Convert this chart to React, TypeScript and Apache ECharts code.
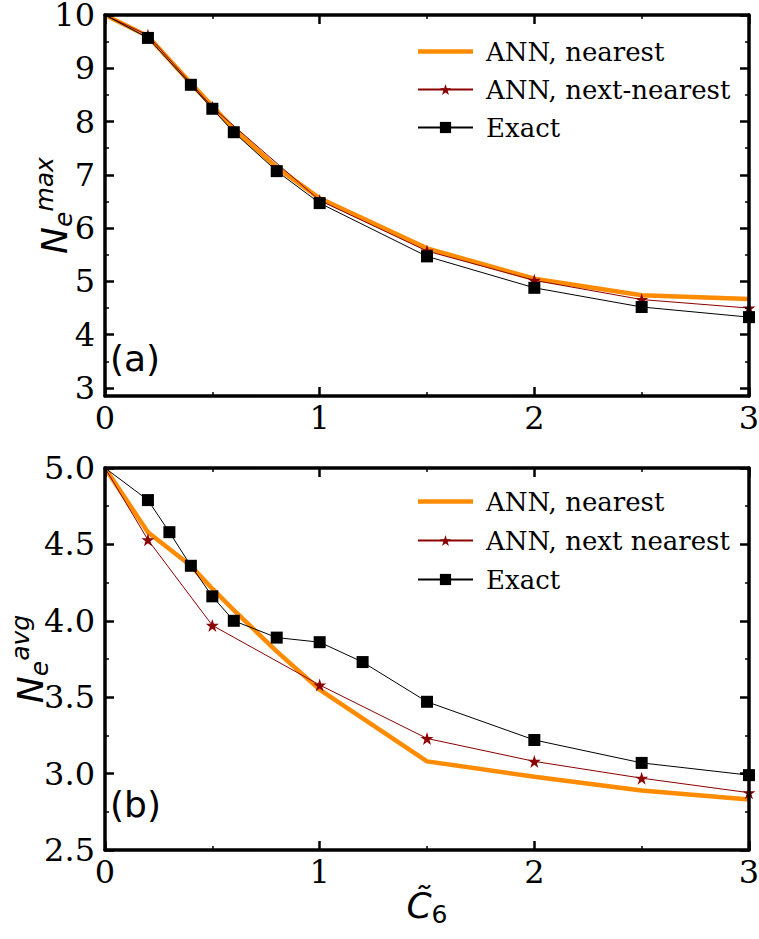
import React, { useEffect, useRef } from "react";
import * as echarts from "echarts";

// ---- data ----
const xTicks = [0, 1, 2, 3];
const topYTicks = [3, 4, 5, 6, 7, 8, 9, 10];
const topYMinor = [3.5, 4.5, 5.5, 6.5, 7.5, 8.5, 9.5];

const xTopNearest = [0, 0.2, 0.4, 0.5, 0.6, 0.8, 1, 1.5, 2, 2.5, 3];
const topNearest = [10, 9.6, 8.72, 8.29, 7.86, 7.14, 6.56, 5.62, 5.05, 4.74, 4.67];
const xTopNext = [0, 0.2, 0.5, 1, 1.5, 2, 2.5, 3];
const topNext = [10, 9.62, 8.27, 6.52, 5.57, 5.02, 4.66, 4.5];
const xTopExact = [0, 0.2, 0.4, 0.5, 0.6, 0.8, 1, 1.5, 2, 2.5, 3];
const topExact = [10, 9.57, 8.69, 8.24, 7.8, 7.07, 6.47, 5.47, 4.88, 4.52, 4.33];

const xBotNearest = [0, 0.2, 0.4, 0.5, 0.6, 0.8, 1, 1.5, 2, 2.5, 3];
const botNearest = [5.0, 4.58, 4.36, 4.21, 4.07, 3.8, 3.55, 3.08, 2.98, 2.89, 2.83];
const xBotNext = [0, 0.2, 0.5, 1, 1.5, 2, 2.5, 3];
const botNext = [5.0, 4.53, 3.97, 3.58, 3.23, 3.08, 2.97, 2.875];
const xBotExact = [0, 0.2, 0.3, 0.4, 0.5, 0.6, 0.8, 1, 1.2, 1.5, 2, 2.5, 3];
const botExact = [5.0, 4.79, 4.58, 4.36, 4.16, 4.0, 3.89, 3.86, 3.73, 3.47, 3.22, 3.07, 2.99];

const topLegend = ["ANN, nearest", "ANN, next-nearest", "Exact"];
const botLegend = ["ANN, nearest", "ANN, next nearest", "Exact"];

const zip = (xs: number[], ys: number[]) => xs.map((x, i) => [x, ys[i]]);

const SERIF = "DejaVu Serif";
const SANS = "DejaVu Sans";
const STAR =
  "path://M0,-10 L2.245,-3.09 L9.51,-3.09 L3.633,1.18 L5.878,8.09 L0,3.82 L-5.878,8.09 L-3.633,1.18 L-9.51,-3.09 L-2.245,-3.09 Z";
const LINE_ICON = "path://M0,0 H55 V4.5 H0 Z";

const tickLabel = { fontFamily: SERIF, fontSize: 32, color: "#000" };
const axisLine = { show: true, onZero: false, lineStyle: { color: "#000", width: 3.5 } };
const majorTick = { show: true, inside: true, length: 9, lineStyle: { color: "#000", width: 2.5 } };
const minorTickStyle = { show: true, splitNumber: 2, length: 4, lineStyle: { color: "#000", width: 1.5 } };

// markers sitting on the x = 0 frame are hidden, as in the reference (clipped there)
const sizeFn = (s: number) => (v: number[]) => (v[0] === 0 ? 0 : s);

function xAxisPair(gridIndex: number, name?: string) {
  const base = {
    type: "value",
    gridIndex,
    min: 0,
    max: 3,
    interval: 1,
    z: 10,
    axisLine,
    axisTick: majorTick,
    minorTick: minorTickStyle,
    splitLine: { show: false },
  };
  return [
    {
      ...base,
      position: "bottom",
      axisLabel: { ...tickLabel, margin: 6 },
      name: name,
      nameLocation: "middle",
      nameGap: 33,
      nameMoveOverlap: false,
      nameTextStyle: {
        rich: {
          c: { fontFamily: SANS, fontSize: 36, fontStyle: "italic", color: "#000", lineHeight: 44 },
          s: { fontFamily: SANS, fontSize: 25, color: "#000", lineHeight: 25, verticalAlign: "bottom" },
        },
      },
    },
    { ...base, position: "top", axisLabel: { show: false } },
  ];
}

const yNameRich = {
  n: { fontFamily: SANS, fontSize: 36, fontStyle: "italic", color: "#000", lineHeight: 44 },
  s: { fontFamily: SANS, fontSize: 25, fontStyle: "italic", color: "#000", lineHeight: 25, verticalAlign: "bottom" },
  p: { fontFamily: SANS, fontSize: 25, fontStyle: "italic", color: "#000", lineHeight: 25, verticalAlign: "top" },
};

const legendBase = {
  orient: "vertical",
  left: 412,
  itemWidth: 55,
  itemHeight: 14,
  itemGap: 11,
  textStyle: { fontFamily: SERIF, fontSize: 26, color: "#000", lineHeight: 27, padding: [0, 0, 0, 8] },
};

export default function App() {
  const ref = useRef<HTMLDivElement>(null);
  useEffect(() => {
    if (!ref.current) return;
    const chart = echarts.init(ref.current, undefined, { renderer: "svg" });
    const topYBase = { type: "value", gridIndex: 0, min: 2.85, max: 10, z: 10, splitLine: { show: false } };
    const option: any = {
      animation: false,
      backgroundColor: "#fff",
      grid: [
        { left: 105, right: 10, top: 15, height: 381, outerBoundsMode: "none", containLabel: false },
        { left: 105, right: 10, top: 468, height: 382, outerBoundsMode: "none", containLabel: false },
      ],
      xAxis: [...xAxisPair(0), ...xAxisPair(1, "{c|C\u0303}{s|6}")],
      yAxis: [
        {
          ...topYBase,
          position: "left",
          axisLine,
          axisTick: { ...majorTick, customValues: topYTicks },
          axisLabel: { ...tickLabel, margin: 10, customValues: topYTicks },
          name: "{n|N}{s|e}{p|max}",
          nameLocation: "middle",
          nameRotate: 90,
          nameGap: 29,
          nameMoveOverlap: false,
          nameTextStyle: { rich: yNameRich },
        },
        {
          ...topYBase,
          position: "left",
          axisLine: { show: false, onZero: false },
          axisLabel: { show: false },
          axisTick: { show: true, inside: true, length: 4, lineStyle: { color: "#000", width: 1.5 }, customValues: topYMinor },
        },
        {
          ...topYBase,
          position: "right",
          axisLine,
          axisLabel: { show: false },
          axisTick: { ...majorTick, customValues: topYTicks },
        },
        {
          ...topYBase,
          position: "right",
          axisLine: { show: false, onZero: false },
          axisLabel: { show: false },
          axisTick: { show: true, inside: true, length: 4, lineStyle: { color: "#000", width: 1.5 }, customValues: topYMinor },
        },
        {
          type: "value",
          gridIndex: 1,
          position: "left",
          min: 2.5,
          max: 5,
          interval: 0.5,
          z: 10,
          axisLine,
          axisTick: majorTick,
          minorTick: minorTickStyle,
          splitLine: { show: false },
          axisLabel: { ...tickLabel, margin: 10, formatter: (v: number) => v.toFixed(1) },
          name: "{n|N}{s|e}{p|avg}",
          nameLocation: "middle",
          nameRotate: 90,
          nameGap: 53,
          nameMoveOverlap: false,
          nameTextStyle: { rich: yNameRich },
        },
        {
          type: "value",
          gridIndex: 1,
          position: "right",
          min: 2.5,
          max: 5,
          interval: 0.5,
          z: 10,
          axisLine,
          axisTick: majorTick,
          minorTick: minorTickStyle,
          splitLine: { show: false },
          axisLabel: { show: false },
        },
      ],
      legend: [
        {
          ...legendBase,
          top: 33,
          data: [{ name: topLegend[0], icon: LINE_ICON }, topLegend[1], topLegend[2]],
        },
        {
          ...legendBase,
          top: 483,
          itemGap: 12,
          data: [{ name: botLegend[0], icon: LINE_ICON }, botLegend[1], botLegend[2]],
        },
      ],
      series: [
        {
          name: topLegend[0],
          type: "line",
          xAxisIndex: 0,
          yAxisIndex: 0,
          data: zip(xTopNearest, topNearest),
          symbol: "none",
          lineStyle: { color: "#ff8c00", width: 4.5 },
          itemStyle: { color: "#ff8c00" },
          z: 2,
        },
        {
          name: topLegend[1],
          type: "line",
          xAxisIndex: 0,
          yAxisIndex: 0,
          data: zip(xTopNext, topNext),
          symbol: STAR,
          symbolSize: sizeFn(13),
          lineStyle: { color: "#8b0000", width: 1 },
          itemStyle: { color: "#8b0000" },
          z: 3,
        },
        {
          name: topLegend[2],
          type: "line",
          xAxisIndex: 0,
          yAxisIndex: 0,
          data: zip(xTopExact, topExact),
          symbol: "rect",
          symbolSize: sizeFn(12),
          lineStyle: { color: "#000", width: 1 },
          itemStyle: { color: "#000" },
          z: 4,
        },
        {
          name: botLegend[0],
          type: "line",
          xAxisIndex: 2,
          yAxisIndex: 4,
          data: zip(xBotNearest, botNearest),
          symbol: "none",
          lineStyle: { color: "#ff8c00", width: 4.5 },
          itemStyle: { color: "#ff8c00" },
          z: 2,
        },
        {
          name: botLegend[1],
          type: "line",
          xAxisIndex: 2,
          yAxisIndex: 4,
          data: zip(xBotNext, botNext),
          symbol: STAR,
          symbolSize: sizeFn(13),
          lineStyle: { color: "#8b0000", width: 1 },
          itemStyle: { color: "#8b0000" },
          z: 3,
        },
        {
          name: botLegend[2],
          type: "line",
          xAxisIndex: 2,
          yAxisIndex: 4,
          data: zip(xBotExact, botExact),
          symbol: "rect",
          symbolSize: sizeFn(12),
          lineStyle: { color: "#000", width: 1 },
          itemStyle: { color: "#000" },
          z: 4,
        },
      ],
      graphic: [
        {
          type: "text",
          left: 110,
          top: 340,
          style: { text: "(a)", font: '36px "DejaVu Sans"', fill: "#000" },
        },
        {
          type: "text",
          left: 110,
          top: 786,
          style: { text: "(b)", font: '36px "DejaVu Sans"', fill: "#000" },
        },
      ],
    };
    chart.setOption(option);
    return () => chart.dispose();
  }, []);
  return (
    <div
      ref={ref}
      style={{ position: "absolute", left: 0, top: 0, width: 759, height: 939, background: "#fff" }}
    />
  );
}
